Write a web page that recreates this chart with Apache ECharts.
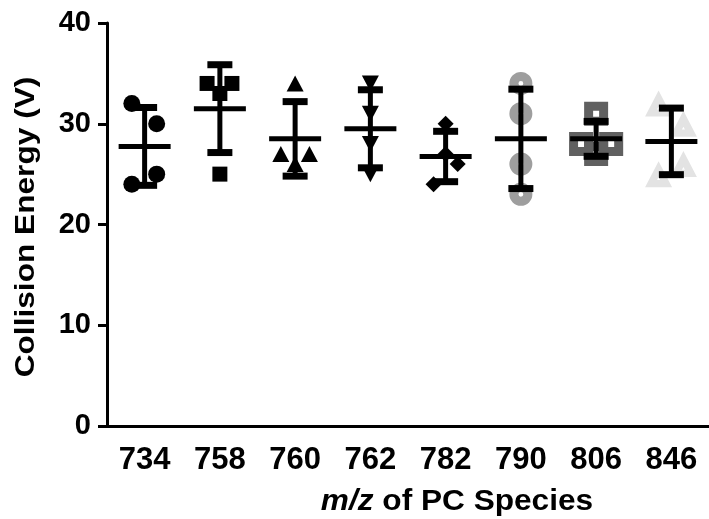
<!DOCTYPE html>
<html lang="en">
<head>
<meta charset="UTF-8">
<title>Collision Energy</title>
<script src="https://cdn.jsdelivr.net/npm/echarts@6/dist/echarts.min.js"></script>
<style>
    html, body { margin: 0; padding: 0; background: #fff; }
    #chart { width: 709px; height: 519px; }
</style>
</head>
<body>
<div id="chart"></div>
<script>
    // m/z of each PC species
    var categories = ['734', '758', '760', '762', '782', '790', '806', '846'];
    // collision energy (V), 4 replicates per species
    var energy = [
        [32, 30, 25, 24],
        [34, 34, 33, 25],
        [34, 27, 27, 26],
        [34, 31, 28, 25],
        [30, 27, 26, 24],
        [34, 31, 26, 23],
        [31, 28, 28, 27],
        [32, 30, 26, 25]
    ];
    // horizontal spread of overlapping points (fraction of a category)
    var spread = [
        [-0.17, 0.16, 0.16, -0.17],
        [-0.17, 0.16, 0, 0],
        [0, -0.19, 0.19, 0],
        [0, 0, 0, 0],
        [0, 0, 0.16, -0.16],
        [0, 0, 0, 0],
        [0, -0.2, 0.2, 0],
        [-0.17, 0.16, 0.16, -0.17]
    ];
    var yMin = 0, yMax = 40, yStep = 10;
    var yTitle = 'Collision Energy (V)';

    var FONT = '"Liberation Sans", Arial, sans-serif';

    // symbols with a hole in the middle
    var ringCircle = 'path://M12,0A12,12 0 1,1 12,24A12,12 0 1,1 12,0Z M12,9.5A2.5,2.5 0 1,0 12,14.5A2.5,2.5 0 1,0 12,9.5Z';
    var ringSquare = 'path://M0,0H24V24H0Z M9,9V15H15V9Z';
    var ringTriangle = 'path://M13.5,0L27,27H0Z M13.5,16.5L12,19.5H15Z';

    var marks = [
        {symbol: 'circle', size: 17, color: '#000', rotate: 0},
        {symbol: 'rect', size: 15, color: '#000', rotate: 0},
        {symbol: 'triangle', size: [17, 16], color: '#000', rotate: 0},
        {symbol: 'triangle', size: [17, 16], color: '#000', rotate: 180},
        {symbol: 'diamond', size: [16, 16], color: '#000', rotate: 0},
        {symbol: ringCircle, size: 23, color: '#9e9e9e', rotate: 0},
        {symbol: ringSquare, size: 24, color: '#606060', rotate: 0},
        {symbol: ringTriangle, size: [27, 26], color: '#e3e3e3', rotate: 0}
    ];

    function mean(a) {
        var s = 0;
        for (var i = 0; i < a.length; i++) s += a[i];
        return s / a.length;
    }
    function sd(a) {
        var m = mean(a), s = 0;
        for (var i = 0; i < a.length; i++) s += (a[i] - m) * (a[i] - m);
        return Math.sqrt(s / (a.length - 1));
    }

    var series = [];
    for (var i = 0; i < categories.length; i++) {
        var pts = [];
        for (var j = 0; j < energy[i].length; j++) {
            pts.push([i + spread[i][j], energy[i][j]]);
        }
        series.push({
            type: 'scatter',
            xAxisIndex: 1,
            symbol: marks[i].symbol,
            symbolSize: marks[i].size,
            symbolRotate: marks[i].rotate,
            itemStyle: {color: marks[i].color, opacity: 1},
            emphasis: {disabled: true},
            z: 2,
            data: pts
        });
    }

    var stats = [];
    for (var i = 0; i < categories.length; i++) {
        stats.push([i, mean(energy[i]), sd(energy[i])]);
    }

    // mean line + SD error bar drawn over the points
    series.push({
        type: 'custom',
        xAxisIndex: 0,
        z: 5,
        silent: true,
        renderItem: function (params, api) {
            var c = api.coord([api.value(0), api.value(1)]);
            var hi = api.coord([api.value(0), api.value(1) + api.value(2)]);
            var lo = api.coord([api.value(0), api.value(1) - api.value(2)]);
            var st = {fill: '#000'};
            return {
                type: 'group',
                children: [
                    {type: 'rect', shape: {x: c[0] - 2.5, y: hi[1], width: 5, height: lo[1] - hi[1]}, style: st},
                    {type: 'rect', shape: {x: c[0] - 12.5, y: hi[1] - 3.5, width: 25, height: 7}, style: st},
                    {type: 'rect', shape: {x: c[0] - 12.5, y: lo[1] - 3.5, width: 25, height: 7}, style: st},
                    {type: 'rect', shape: {x: c[0] - 26, y: c[1] - 2.5, width: 52, height: 5}, style: st}
                ]
            };
        },
        encode: {x: 0, y: 1},
        data: stats
    });

    var myChart = echarts.init(document.getElementById('chart'));
    var option = {
        animation: false,
        backgroundColor: '#fff',
        grid: {left: 107, top: 23, width: 606, bottom: 93, containLabel: false},
        xAxis: [
            {
                type: 'category',
                data: categories,
                axisLine: {onZero: false, lineStyle: {color: '#000', width: 3}},
                axisTick: {alignWithLabel: true, length: 9, lineStyle: {color: '#000', width: 3}},
                axisLabel: {color: '#000', fontSize: 31, fontWeight: 'bold', fontFamily: FONT, margin: 19},
                splitLine: {show: false}
            },
            {
                type: 'value',
                min: -0.5,
                max: categories.length - 0.5,
                show: false
            }
        ],
        yAxis: {
            type: 'value',
            min: yMin,
            max: yMax,
            interval: yStep,
            axisLine: {show: true, onZero: false, lineStyle: {color: '#000', width: 3}},
            axisTick: {show: true, length: 9, lineStyle: {color: '#000', width: 3}},
            axisLabel: {color: '#000', fontSize: 29, fontWeight: 'bold', fontFamily: FONT, margin: 16},
            splitLine: {show: false}
        },
        graphic: [
            {
                type: 'text',
                x: 26,
                y: 227,
                rotation: Math.PI / 2,
                scaleX: 1.13,
                style: {
                    text: yTitle,
                    align: 'center',
                    verticalAlign: 'middle',
                    fill: '#000',
                    font: 'bold 28px ' + FONT
                }
            },
            {
                type: 'text',
                x: 457,
                y: 502,
                scaleX: 1.09,
                style: {
                    text: '{i|m/z} of PC Species',
                    align: 'center',
                    verticalAlign: 'middle',
                    fill: '#000',
                    font: 'bold 29px ' + FONT,
                    rich: {
                        i: {fontStyle: 'italic', fontWeight: 'bold', fontSize: 29, fontFamily: FONT, fill: '#000'}
                    }
                }
            }
        ],
        series: series
    };
    myChart.setOption(option);
</script>
</body>
</html>
